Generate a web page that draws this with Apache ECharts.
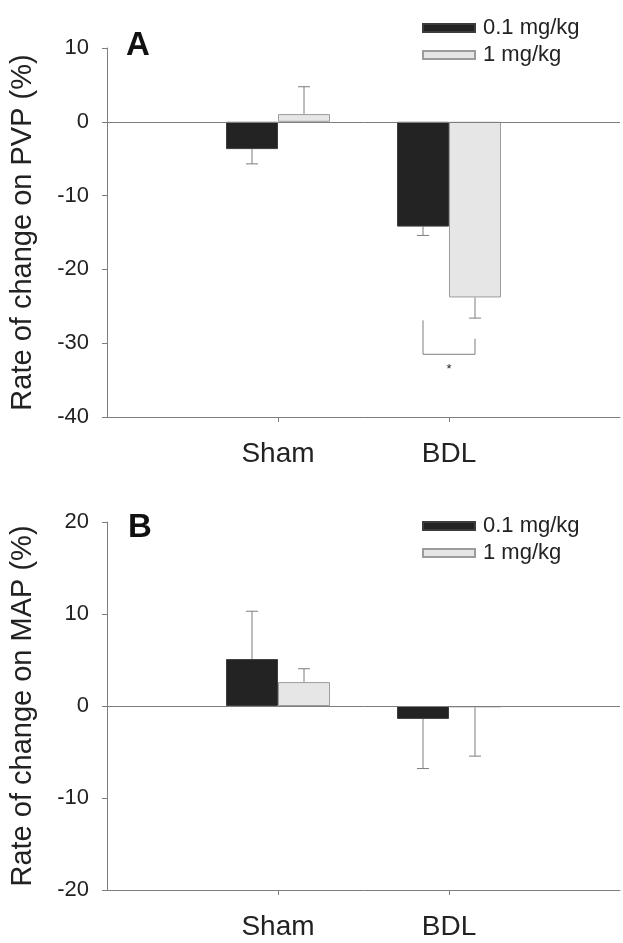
<!DOCTYPE html>
<html>
<head>
<meta charset="utf-8">
<title>Rate of change on PVP and MAP</title>
<script src="https://cdn.jsdelivr.net/npm/echarts@6/dist/echarts.min.js"></script>
<style>
  html, body { margin: 0; padding: 0; background: #fff; }
  #chart { width: 623px; height: 943px; }
</style>
</head>
<body>
<div id="chart"></div>
<script>
// groups on the x axis and the two doses
const groups = ['Sham', 'BDL']
const doseNames = ['0.1 mg/kg', '1 mg/kg']

// panel A: rate of change on PVP (%), mean and SEM
const pvpLow = [-3.7, -14.2]
const pvpHigh = [1.05, -23.8]
const pvpLowSem = [2.0, 1.2]
const pvpHighSem = [3.7, 2.8]
const pvpTicks = [-40, -30, -20, -10, 0, 10]
// significance bracket under BDL: left top, right top, bottom, star
const pvpBracket = [-26.9, -29.4, -31.5, -33.6]

// panel B: rate of change on MAP (%), mean and SEM
const mapLow = [5.1, -1.4]
const mapHigh = [2.6, -0.15]
const mapLowSem = [5.2, 5.4]
const mapHighSem = [1.45, 5.3]
const mapTicks = [-20, -10, 0, 10, 20]

const FONT = "'Liberation Sans', Arial, Helvetica, sans-serif"
const axisGray = '#7d7d7d'
const textDark = '#222'
const barW = 52

const cats = ['', ...groups, '']
const pad = arr => [null, ...arr, null]

const darkStyle = { color: '#232323', borderColor: '#3c3c3c', borderWidth: 1 }
const lightStyle = { color: '#e6e6e6', borderColor: '#9c9c9c', borderWidth: 1 }

const errData = (low, high, lowSem, highSem) => {
  const out = []
  groups.forEach((g, i) => {
    out.push([i + 1, 0, low[i], lowSem[i]])
    out.push([i + 1, 1, high[i], highSem[i]])
  })
  return out
}

const renderErr = (params, api) => {
  const ci = api.value(0)
  const d = api.value(1)
  const mean = api.value(2)
  const sem = api.value(3)
  const dir = mean >= 0 ? 1 : -1
  const base = api.coord([ci, mean])
  const tip = api.coord([ci, mean + dir * sem])
  const x = base[0] + (d === 0 ? -barW / 2 : barW / 2)
  const ls = { stroke: axisGray, lineWidth: 1 }
  return {
    type: 'group',
    children: [
      { type: 'line', shape: { x1: x, y1: base[1], x2: x, y2: tip[1] }, style: ls },
      { type: 'line', shape: { x1: x - 6, y1: tip[1], x2: x + 6, y2: tip[1] }, style: ls }
    ]
  }
}

const renderBracket = (params, api) => {
  const ci = api.value(0)
  const l = api.coord([ci, api.value(1)])
  const r = api.coord([ci, api.value(2)])
  const b = api.coord([ci, api.value(3)])
  const s = api.coord([ci, api.value(4)])
  const xL = l[0] - barW / 2
  const xR = r[0] + barW / 2
  return {
    type: 'group',
    children: [
      {
        type: 'polyline',
        shape: { points: [[xL, l[1]], [xL, b[1]], [xR, b[1]], [xR, r[1]]] },
        style: { stroke: axisGray, lineWidth: 1, fill: null }
      },
      {
        type: 'text',
        style: { text: '*', x: s[0], y: s[1], align: 'center', verticalAlign: 'middle',
                 fontSize: 13, fill: textDark, font: '13px ' + FONT }
      }
    ]
  }
}

const makeX = (gi) => ({
  gridIndex: gi,
  type: 'category',
  data: cats,
  boundaryGap: false,
  axisLine: { onZero: false, lineStyle: { color: axisGray, width: 1 } },
  axisTick: { show: true, length: 5, interval: (i) => i === 1 || i === 2, lineStyle: { color: axisGray } },
  axisLabel: { interval: 0, margin: 23, fontSize: 28, color: textDark, fontFamily: FONT },
  splitLine: { show: false }
})

const makeY = (gi, ticks, name) => ({
  gridIndex: gi,
  type: 'value',
  min: ticks[0],
  max: ticks[ticks.length - 1],
  interval: 10,
  name: name,
  nameLocation: 'middle',
  nameGap: 70,
  nameTextStyle: { fontSize: 29, color: textDark, fontFamily: FONT },
  axisLine: { show: true, lineStyle: { color: axisGray, width: 1 } },
  axisTick: { show: true, length: 5, lineStyle: { color: axisGray } },
  axisLabel: { margin: 18, fontSize: 22, color: textDark, fontFamily: FONT },
  splitLine: { show: false }
})

const zeroLine = {
  silent: true,
  symbol: ['none', 'none'],
  label: { show: false },
  lineStyle: { color: axisGray, type: 'solid', width: 1 },
  data: [{ yAxis: 0 }]
}

const makeLegend = (top) => ({
  data: doseNames,
  orient: 'vertical',
  left: 417,
  top: top,
  icon: 'rect',
  itemWidth: 52,
  itemHeight: 8,
  itemGap: 5,
  selectedMode: false,
  textStyle: { fontSize: 22, lineHeight: 22, color: textDark, fontFamily: FONT, padding: [0, 0, 0, 3] }
})

const option = {
  animation: false,
  backgroundColor: '#fff',
  textStyle: { fontFamily: FONT },
  title: [
    { text: 'A', left: 121, top: 24, textStyle: { fontSize: 33, fontWeight: 'bold', color: '#111', fontFamily: FONT } },
    { text: 'B', left: 123, top: 506, textStyle: { fontSize: 33, fontWeight: 'bold', color: '#111', fontFamily: FONT } }
  ],
  legend: [makeLegend(12), makeLegend(510)],
  grid: [
    { left: 106, right: -2, top: 48, height: 369 },
    { left: 106, right: -2, top: 522, height: 368 }
  ],
  xAxis: [makeX(0), makeX(1)],
  yAxis: [
    makeY(0, pvpTicks, 'Rate of change on PVP (%)'),
    makeY(1, mapTicks, 'Rate of change on MAP (%)')
  ],
  series: [
    {
      name: doseNames[0], type: 'bar', xAxisIndex: 0, yAxisIndex: 0,
      data: pad(pvpLow), barWidth: barW, barGap: '0%', itemStyle: darkStyle,
      markLine: zeroLine
    },
    {
      name: doseNames[1], type: 'bar', xAxisIndex: 0, yAxisIndex: 0,
      data: pad(pvpHigh), barWidth: barW, barGap: '0%', itemStyle: lightStyle
    },
    {
      name: 'err-a', type: 'custom', xAxisIndex: 0, yAxisIndex: 0,
      data: errData(pvpLow, pvpHigh, pvpLowSem, pvpHighSem),
      encode: { x: 0, y: 2 }, renderItem: renderErr, silent: true, z: 1
    },
    {
      name: 'sig-a', type: 'custom', xAxisIndex: 0, yAxisIndex: 0,
      data: [[2, ...pvpBracket]],
      encode: { x: 0, y: 1 }, renderItem: renderBracket, silent: true
    },
    {
      name: doseNames[0], type: 'bar', xAxisIndex: 1, yAxisIndex: 1,
      data: pad(mapLow), barWidth: barW, barGap: '0%', itemStyle: darkStyle,
      markLine: zeroLine
    },
    {
      name: doseNames[1], type: 'bar', xAxisIndex: 1, yAxisIndex: 1,
      data: pad(mapHigh), barWidth: barW, barGap: '0%', itemStyle: lightStyle
    },
    {
      name: 'err-b', type: 'custom', xAxisIndex: 1, yAxisIndex: 1,
      data: errData(mapLow, mapHigh, mapLowSem, mapHighSem),
      encode: { x: 0, y: 2 }, renderItem: renderErr, silent: true, z: 1
    }
  ]
}

const chart = echarts.init(document.getElementById('chart'), null, { renderer: 'canvas' })
chart.setOption(option)
</script>
</body>
</html>
